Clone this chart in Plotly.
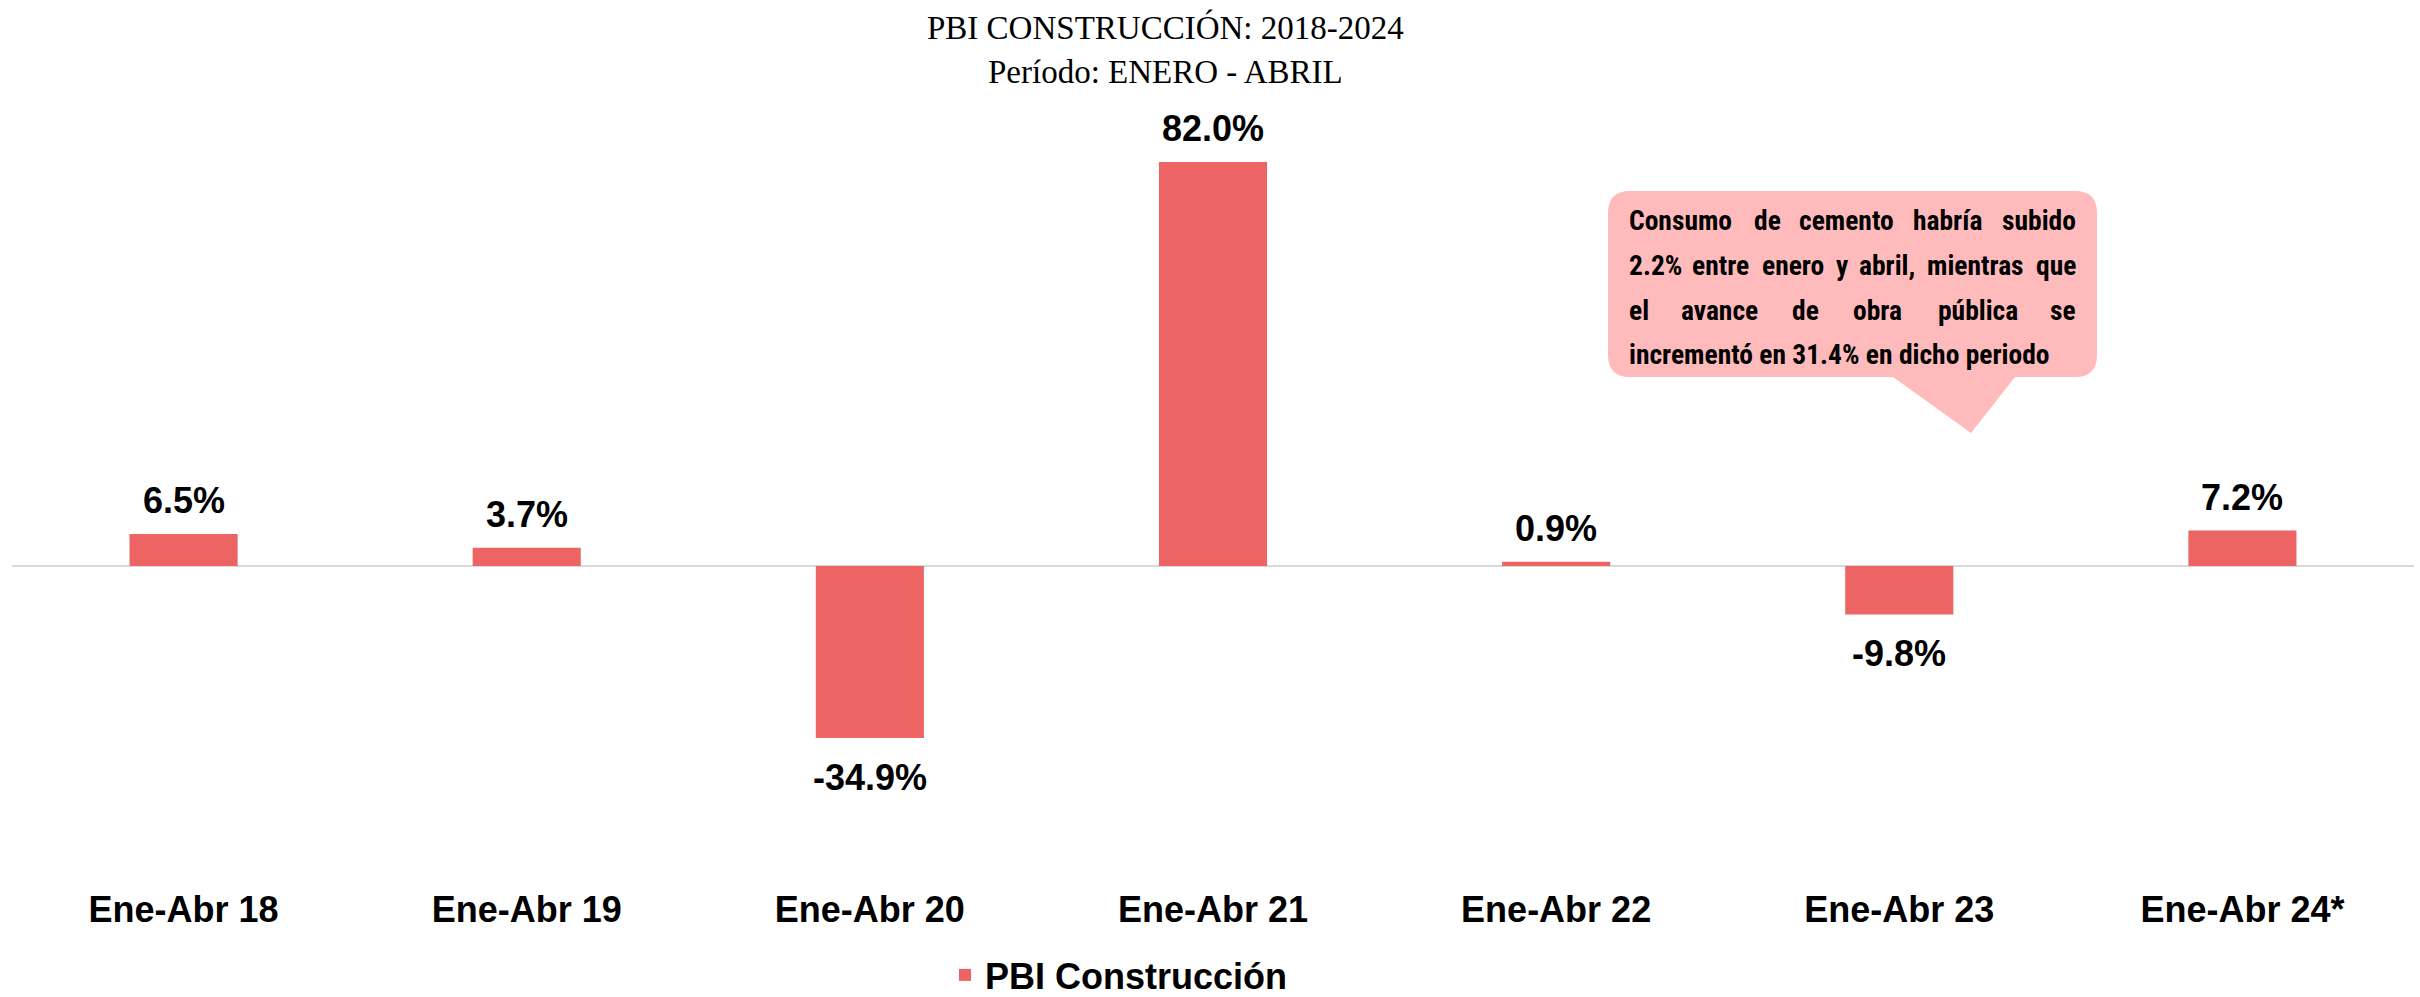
import plotly.graph_objects as go

# ---- data ----
categories = ["Ene-Abr 18", "Ene-Abr 19", "Ene-Abr 20", "Ene-Abr 21",
              "Ene-Abr 22", "Ene-Abr 23", "Ene-Abr 24*"]
pbi_construccion = [6.5, 3.7, -34.9, 82.0, 0.9, -9.8, 7.2]
series_name = "PBI Construcción"
title_lines = ["PBI CONSTRUCCIÓN: 2018-2024", "Período: ENERO - ABRIL"]
note_lines = ["Consumo de cemento habría subido",
              "2.2% entre enero y abril, mientras que",
              "el avance de obra pública se",
              "incrementó en 31.4% en dicho periodo"]

# ---- layout geometry (pixels) ----
W_PX, H_PX = 2420, 997
ML, MR, MT, MB = 12, 6, 120, 112
PW = W_PX - ML - MR
PH = H_PX - MT - MB
Y_RANGE = [-64.7, 90.5]

BAR_COLOR = "#EC6464"
NOTE_FILL = "#FFBBBB"
SANS = "Arial, Liberation Sans, sans-serif"
NARROW = "Roboto Condensed, Open Sans Condensed, Liberation Sans, sans-serif"
SERIF = "Georgia, Liberation Serif, serif"


def px_x(px):
    return (px - ML) / PW


def px_y(py):
    return (H_PX - MB - py) / PH


fig = go.Figure()
fig.add_trace(go.Bar(
    x=categories, y=pbi_construccion, name=series_name,
    marker=dict(color=BAR_COLOR, line=dict(width=0)),
    textposition="none", hoverinfo="x+y",
))

# value labels
for cat, v in zip(categories, pbi_construccion):
    fig.add_annotation(x=cat, y=v, xref="x", yref="y", text=f"{v:.1f}%", showarrow=False,
                       xanchor="center", yanchor="bottom" if v >= 0 else "top",
                       yshift=11 if v >= 0 else -17,
                       font=dict(family=SANS, size=36, color="black", weight="bold"))

# title lines
for line, cy in zip(title_lines, [28, 72]):
    fig.add_annotation(x=px_x(1165), y=px_y(cy), xref="paper", yref="paper",
                       text=line, showarrow=False, xanchor="center", yanchor="middle",
                       font=dict(family=SERIF, size=33, color="black"))

# ---- callout box (rounded rect + pointer) ----
bx0, bx1, by0, by1, r = 1608, 2097, 191, 377, 22
tip_l, tip_r, tip_x, tip_y = 1893, 2015, 1971, 433


def P(x, y):
    return f"{px_x(x):.5f},{px_y(y):.5f}"


path = (f"M {P(bx0 + r, by0)} L {P(bx1 - r, by0)} Q {P(bx1, by0)} {P(bx1, by0 + r)} "
        f"L {P(bx1, by1 - r)} Q {P(bx1, by1)} {P(bx1 - r, by1)} "
        f"L {P(tip_r, by1)} L {P(tip_x, tip_y)} L {P(tip_l, by1)} "
        f"L {P(bx0 + r, by1)} Q {P(bx0, by1)} {P(bx0, by1 - r)} "
        f"L {P(bx0, by0 + r)} Q {P(bx0, by0)} {P(bx0 + r, by0)} Z")
fig.add_shape(type="path", path=path, xref="paper", yref="paper",
              fillcolor=NOTE_FILL, line=dict(width=0), layer="below")

# ---- justified note text ----
AW = {'C': .722, 'o': .611, 'n': .611, 's': .556, 'u': .611, 'm': .889, 'd': .611,
      'e': .556, 'c': .556, 't': .333, 'h': .611, 'a': .556, 'b': .611, 'r': .389,
      'í': .278, 'i': .278, '2': .556, '.': .278, '%': .889, 'y': .556, 'l': .278,
      ',': .278, 'q': .611, 'v': .556, 'p': .611, 'ú': .611, '3': .556, '1': .556,
      '4': .556, 'ó': .611, ' ': .278}
NOTE_FS = 27.5
NARROW_K = 0.87


def wwidth(w):
    return sum(AW.get(ch, .556) for ch in w) * NOTE_FS * NARROW_K


tx0, tx1 = 1627, 2078
line_centers = [220, 265, 310, 354]
note_font = dict(family=NARROW, size=NOTE_FS, color="black", weight="bold")
for i, (line, cy) in enumerate(zip(note_lines, line_centers)):
    words = line.split(" ")
    if i == len(note_lines) - 1:
        fig.add_annotation(x=px_x(tx0), y=px_y(cy), xref="paper", yref="paper",
                           text=line, showarrow=False, xanchor="left", yanchor="middle",
                           font=note_font)
        continue
    widths = [wwidth(w) for w in words]
    gap = (tx1 - tx0 - sum(widths)) / (len(words) - 1)
    x = tx0
    for j, (w, wd) in enumerate(zip(words, widths)):
        if j == 0:
            ax, anc = x, "left"
        elif j == len(words) - 1:
            ax, anc = tx1, "right"
        else:
            ax, anc = x + wd / 2, "center"
        fig.add_annotation(x=px_x(ax), y=px_y(cy), xref="paper", yref="paper",
                           text=w, showarrow=False, xanchor=anc, yanchor="middle",
                           font=note_font)
        x += wd + gap

fig.update_layout(
    width=W_PX, height=H_PX,
    margin=dict(l=ML, r=MR, t=MT, b=MB, autoexpand=False),
    plot_bgcolor="white", paper_bgcolor="white",
    bargap=0.685,
    xaxis=dict(showline=False, showgrid=False, ticks="",
               tickfont=dict(family=SANS, size=36, color="black", weight="bold")),
    yaxis=dict(range=Y_RANGE, showgrid=False, showticklabels=False, ticks="",
               zeroline=True, zerolinecolor="#D9D9D9", zerolinewidth=2, showline=False),
    showlegend=True,
    legend=dict(orientation="h", x=px_x(945), xanchor="left", y=px_y(975), yanchor="middle",
                font=dict(family=SANS, size=36, color="black", weight="bold"),
                bgcolor="rgba(0,0,0,0)"),
)

fig.write_html("out.html", config={"displayModeBar": False},
               post_script="document.body.style.margin='0';")
